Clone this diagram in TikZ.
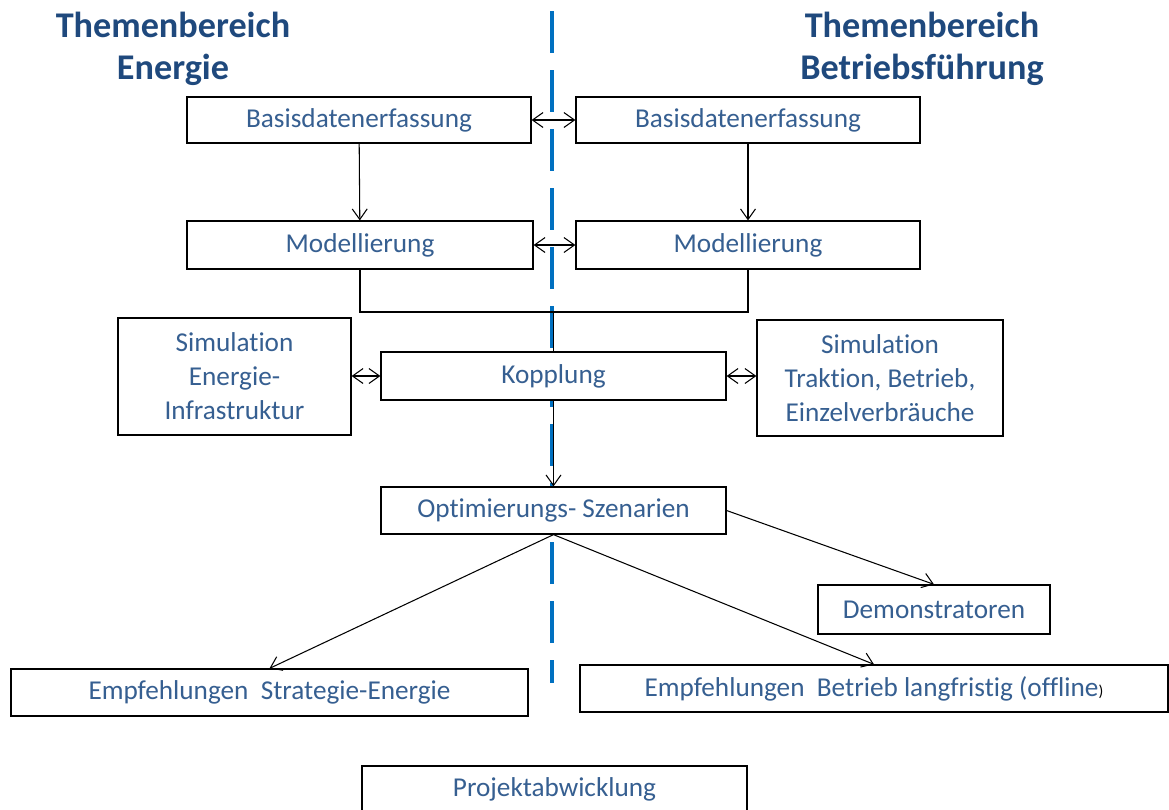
\documentclass[tikz,border=0pt]{standalone}
\usepackage{fontspec}
\setmainfont{Carlito}[RawFeature={-liga;-clig;-calt;-dlig}]
\usepackage{xcolor}
\usetikzlibrary{arrows.meta}
\definecolor{titleblue}{RGB}{31,73,125}
\definecolor{boxtext}{RGB}{54,95,145}
\definecolor{divider}{RGB}{0,112,192}

\begin{document}
\begin{tikzpicture}[x=0.2mm, y=-0.2mm,
    >={Straight Barb[length=6pt,width=8.5pt]},
    box/.style={draw, rectangle, fill=white, line width=0.7pt, inner sep=0pt,
        text=boxtext, align=center, font=\fontsize{15.5}{19.4}\selectfont},
    headline/.style={text=titleblue, align=center, font=\fontsize{20.6}{24}\selectfont\bfseries},
    link/.style={line width=0.6pt}]
        \useasboundingbox (0,0) rectangle (1169,809);

        % Dividing line
        \draw[divider, line width=2.3pt, dash pattern=on 8.4mm off 3.4mm] (552,11) -- (552,683);

        % Headings
        \node[headline] (headE) at (173,49) {Themenbereich\\Energie};
        \node[headline] (headB) at (922,49) {Themenbereich\\Betriebsführung};

        % Energy side
        \node[box, minimum width=68.8mm, minimum height=9.2mm] (basisE) at (359,120) {Basisdatenerfassung};
        \node[box, minimum width=69.2mm, minimum height=9.6mm] (modE) at (360,245) {Modellierung};
        \node[box, minimum width=46.6mm, minimum height=23.4mm] (simE) at (234.5,376.5) {Simulation\\Energie-\\Infrastruktur};

        % Operations side
        \node[box, minimum width=68.8mm, minimum height=9.2mm] (basisB) at (748,120) {Basisdatenerfassung};
        \node[box, minimum width=68.8mm, minimum height=9.6mm] (modB) at (748,245) {Modellierung};
        \node[box, minimum width=49.2mm, minimum height=23.2mm] (simB) at (880,378) {Simulation\\Traktion, Betrieb,\\Einzelverbräuche};

        % Middle
        \node[box, minimum width=69mm, minimum height=9.6mm] (kopplung) at (553.5,376) {Kopplung};
        \node[box, minimum width=69mm, minimum height=9.4mm] (optim) at (553.5,510.5) {Optimierungs- Szenarien};
        \node[box, minimum width=46.4mm, minimum height=9.8mm] (demo) at (934,609.5) {Demonstratoren};
        \node[box, minimum width=103.4mm, minimum height=9.4mm] (empfE) at (269.5,692.5) {Empfehlungen\ \ Strategie-Energie};
        \node[box, minimum width=117.6mm, minimum height=9.4mm] (empfB) at (874,688.5) {Empfehlungen\ \ Betrieb langfristig (offline{\color{black}\small)}};
        \node[box, minimum width=77mm, minimum height=9.4mm] (projekt) at (554.5,789.5) {Projektabwicklung};

        % Connections
        \draw[link, <->] (basisE) -- (basisB);
        \draw[link, <->] (modE) -- (modB);
        \draw[link, ->] (basisE) -- (modE);
        \draw[link, ->] (basisB) -- (modB);
        \coordinate (join) at (553.5,312);
        \draw[link] (modE.south) |- (join) -| (modB.south);
        \draw[link] (join) -- (kopplung.north);
        \draw[link, <->] (simE.east |- kopplung.west) -- (kopplung.west);
        \draw[link, <->] (kopplung.east) -- (kopplung.east -| simB.west);
        \draw[link, ->] (kopplung.south) -- (optim.north);
        \draw[link, ->] (optim.south) -- (empfE.north);
        \draw[link, ->] (optim.south) -- (empfB.north);
        \draw[link, ->] (optim.east) -- (demo.north);
    \end{tikzpicture}
\end{document}
